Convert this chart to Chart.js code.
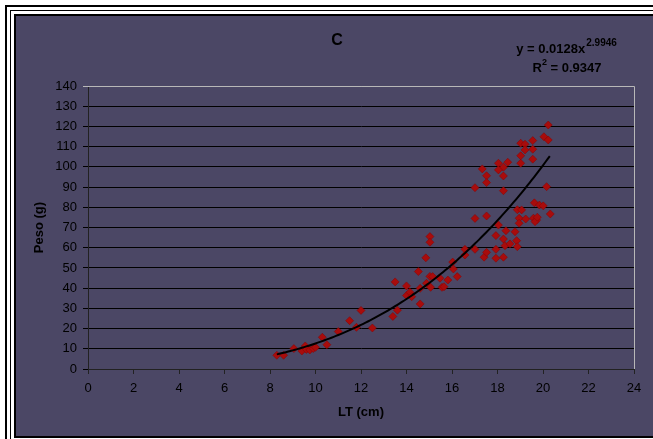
<!DOCTYPE html>
<html>
<head>
<meta charset="utf-8">
<script src="https://cdn.jsdelivr.net/npm/chart.js@4.4.0/dist/chart.umd.min.js"></script>
<style>
  html, body { margin: 0; padding: 0; background: #fff; width: 653px; height: 439px; overflow: hidden; }
  .line1 { position: absolute; left: 5px; top: 5px; width: 800px; height: 600px; border-left: 2px solid #000; border-top: 2px solid #000; }
  .line2 { position: absolute; left: 10px; top: 10px; width: 800px; height: 600px; border-left: 1px solid #000; border-top: 1px solid #000; }
  .panel { position: absolute; left: 14px; top: 14px; width: 800px; height: 420px; border: 2px solid #000; border-right: none; background: #4b4765; }
  #chart { position: absolute; left: 0; top: 0; }
</style>
</head>
<body>
<div class="line1"></div>
<div class="line2"></div>
<div class="panel"></div>
<canvas id="chart" width="653" height="439"></canvas>
<script>
// LT (cm) and Peso (g) for each fish
const ltValues = [
  8.3, 8.6, 9.05, 9.4, 9.55, 9.6, 9.75, 9.9, 10.0, 10.3, 10.5, 11.0, 11.5, 11.8, 12.0,
  12.5, 13.4, 13.6, 13.5, 14.0, 14.0, 14.15, 14.23, 14.6, 14.6, 14.52, 14.85, 15.03, 15.03,
  15.03, 15.06, 14.88, 15.15, 15.47, 15.56, 15.65, 15.82, 16.03, 16.06, 16.23, 16.57, 16.57,
  17.01, 17.01, 17.52, 17.41, 17.52, 17.93, 17.93, 18.26, 18.04, 17.93, 18.37, 18.26, 18.77,
  18.33, 18.55, 18.84, 18.87, 18.87, 19.06, 18.95, 18.95, 19.24, 19.58, 19.72, 19.65, 19.75,
  19.62, 19.84, 20.01, 20.32, 20.23, 20.04, 20.23, 19.02, 19.21, 19.55, 19.21, 19.55, 19.02,
  19.55, 19.02, 18.04, 18.45, 18.26, 18.04, 17.33, 17.52, 18.26, 17.52, 17.01, 18.26, 20.16
];
const pesoValues = [
  6.8, 6.8, 10.1, 8.9, 11.4, 9.7, 9.4, 10.1, 10.7, 15.7, 12.0, 18.5, 23.9, 20.6, 29.0,
  20.3, 26.0, 29.1, 43.1, 41.1, 36.3, 38.0, 35.8, 32.2, 39.9, 48.2, 55.0, 65.5, 62.7,
  45.8, 40.4, 42.4, 45.7, 44.9, 40.4, 40.7, 44.0, 52.9, 49.5, 45.7, 59.2, 56.4,
  59.2, 74.5, 75.7, 55.3, 57.7, 59.2, 54.8, 55.3, 71.2, 66.0, 68.4, 64.3, 67.9,
  61.0, 61.9, 63.5, 60.5, 78.8, 78.7, 74.6, 72.1, 74.2, 74.6, 73.7, 72.9, 75.1,
  82.2, 81.1, 80.7, 76.7, 120.7, 114.9, 113.3, 111.7, 111.2, 113.0, 108.4, 108.7, 105.5,
  103.8, 101.8, 101.8, 102.3, 99.8, 98.5, 99.0, 95.6, 95.5, 92.2, 89.7, 88.2, 90.2
];

// power trendline y = a * x^b, as printed on the chart
const trendCoef = 0.0128;
const trendExp = 2.9946;
const trendR2 = 0.9347;
const trendRange = [8.3, 20.3];

const xTicks = [0, 2, 4, 6, 8, 10, 12, 14, 16, 18, 20, 22, 24];
const yTicks = [0, 10, 20, 30, 40, 50, 60, 70, 80, 90, 100, 110, 120, 130, 140];

const scatterPoints = ltValues.map((x, i) => ({ x: x, y: pesoValues[i] }));

const trendPoints = [];
for (let x = trendRange[0]; x <= trendRange[1] + 1e-9; x += 0.1) {
  trendPoints.push({ x: x, y: trendCoef * Math.pow(x, trendExp) });
}

const FONT = '"Liberation Sans", Arial, sans-serif';

// light grey frame on top/right of the plot area
const plotFrame = {
  id: 'plotFrame',
  beforeDatasetsDraw(chart) {
    const { ctx, chartArea: a } = chart;
    ctx.save();
    ctx.strokeStyle = '#b8b8b8';
    ctx.lineWidth = 1;
    ctx.beginPath();
    ctx.moveTo(a.left, a.top + 0.5);
    ctx.lineTo(a.right + 0.5, a.top + 0.5);
    ctx.lineTo(a.right + 0.5, a.bottom);
    ctx.stroke();
    ctx.restore();
  }
};

// chart title and the trendline equation
const labels = {
  id: 'labels',
  afterDraw(chart) {
    const ctx = chart.ctx;
    ctx.save();
    ctx.fillStyle = '#000';
    ctx.textBaseline = 'middle';
    ctx.textAlign = 'center';
    ctx.font = 'bold 16px ' + FONT;
    ctx.fillText('C', 337, 41);

    const main = 'y = ' + trendCoef + 'x';
    const sup = String(trendExp);
    ctx.font = 'bold 13px ' + FONT;
    const wMain = ctx.measureText(main).width;
    ctx.font = 'bold 10px ' + FONT;
    const wSup = ctx.measureText(sup).width;
    const x0 = 566 - (wMain + wSup) / 2;
    ctx.textAlign = 'left';
    ctx.font = 'bold 13px ' + FONT;
    ctx.fillText(main, x0, 49);
    ctx.font = 'bold 10px ' + FONT;
    ctx.fillText(sup, x0 + wMain + 1, 43);

    const r1 = 'R';
    const r2 = ' = ' + trendR2;
    ctx.font = 'bold 13px ' + FONT;
    const wR = ctx.measureText(r1).width;
    const wR2 = ctx.measureText(r2).width;
    ctx.font = 'bold 9px ' + FONT;
    const wTwo = ctx.measureText('2').width;
    const rx = 567 - (wR + wTwo + wR2) / 2;
    ctx.font = 'bold 13px ' + FONT;
    ctx.fillText(r1, rx, 68);
    ctx.font = 'bold 9px ' + FONT;
    ctx.fillText('2', rx + wR, 63);
    ctx.font = 'bold 13px ' + FONT;
    ctx.fillText(r2, rx + wR + wTwo, 68);
    ctx.restore();
  }
};

new Chart(document.getElementById('chart').getContext('2d'), {
  type: 'scatter',
  data: {
    datasets: [
      {
        type: 'line',
        label: 'Potencial',
        data: trendPoints,
        borderColor: '#000',
        borderWidth: 2,
        pointRadius: 0,
        tension: 0,
        fill: false
      },
      {
        label: 'Peso',
        data: scatterPoints,
        pointStyle: 'rectRot',
        pointRadius: 4,
        backgroundColor: '#a80c0c',
        borderColor: '#8a0000',
        borderWidth: 0.5
      }
    ]
  },
  options: {
    responsive: false,
    animation: false,
    layout: { padding: { left: 0, right: 19, top: 86, bottom: 0 } },
    plugins: {
      legend: { display: false },
      tooltip: { enabled: false },
      title: { display: false }
    },
    scales: {
      x: {
        type: 'linear',
        min: 0,
        max: 24,
        afterBuildTicks: s => { s.ticks = xTicks.map(v => ({ value: v })); },
        afterFit: s => { s.height = 70; },
        ticks: { color: '#000', padding: 7, font: { family: FONT, size: 13 } },
        grid: { drawOnChartArea: false, color: '#222', tickLength: 5 },
        border: { color: '#222', width: 1 },
        title: {
          display: true,
          text: 'LT (cm)',
          color: '#000',
          font: { family: FONT, size: 13, weight: 'bold' },
          padding: { top: 0, bottom: 19 }
        }
      },
      y: {
        type: 'linear',
        min: 0,
        max: 140,
        afterBuildTicks: s => { s.ticks = yTicks.map(v => ({ value: v })); },
        afterFit: s => { s.width = 88; },
        ticks: { color: '#000', padding: 6, font: { family: FONT, size: 13 } },
        grid: {
          color: c => (c.tick && c.tick.value === 140 ? '#b8b8b8' : '#000'),
          lineWidth: 1,
          tickLength: 5
        },
        border: { color: '#222', width: 1 },
        title: {
          display: true,
          text: 'Peso (g)',
          color: '#000',
          font: { family: FONT, size: 13, weight: 'bold' },
          padding: { top: 32, bottom: 0 }
        }
      }
    }
  },
  plugins: [plotFrame, labels]
});
</script>
</body>
</html>
